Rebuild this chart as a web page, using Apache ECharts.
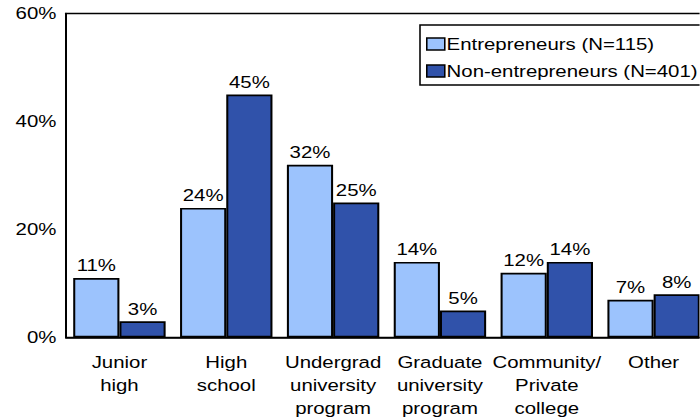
<!DOCTYPE html>
<html>
<head>
<meta charset="utf-8">
<script src="https://cdn.jsdelivr.net/npm/echarts@6/dist/echarts.min.js"></script>
<style>
  html, body { margin: 0; padding: 0; background: #fff; overflow: hidden; }
  /* the chart is laid out narrower and widened, giving the wide lettering of the original */
  #chart { width: 583.33px; height: 420px; transform: scaleX(1.2); transform-origin: 0 0; }
</style>
</head>
<body>
<div id="chart"></div>
<script>
// Education level of respondents, share in percent
const categories = ['Junior\nhigh', 'High\nschool', 'Undergrad\nuniversity\nprogram', 'Graduate\nuniversity\nprogram', 'Community/\nPrivate\ncollege', 'Other'];
const entrepreneurs = [11, 24, 32, 14, 12, 7];
const nonEntrepreneurs = [3, 45, 25, 5, 14, 8];
const seriesNames = ['Entrepreneurs (N=115)', 'Non-entrepreneurs (N=401)'];
const yTicks = [0, 20, 40, 60];

const FONT = 'Liberation Sans, Arial, sans-serif';
const chart = echarts.init(document.getElementById('chart'), null, { renderer: 'svg' });

const labelStyle = {
  show: true,
  position: 'top',
  distance: 4,
  formatter: '{c}%',
  color: '#000',
  fontFamily: FONT,
  fontSize: 17
};

chart.setOption({
  animation: false,
  textStyle: { fontFamily: FONT },
  grid: {
    left: 55, right: -6.2, top: 13.5, bottom: 82.5,
    outerBoundsMode: 'none', containLabel: false,
    show: true, borderColor: '#000', borderWidth: 1.6, backgroundColor: 'transparent'
  },
  legend: {
    orient: 'vertical',
    left: 350, top: 25,
    itemWidth: 15, itemHeight: 12, itemGap: 7,
    padding: [9, 3, 4, 5],
    borderColor: '#000', borderWidth: 1.3,
    icon: 'rect',
    itemStyle: { borderColor: '#000', borderWidth: 1.3 },
    textStyle: { fontFamily: FONT, fontSize: 17, lineHeight: 20, color: '#000', padding: [0, 0, 0, -3.5] },
    data: seriesNames
  },
  xAxis: {
    type: 'category',
    data: categories,
    axisLine: { lineStyle: { color: '#000', width: 1.6 } },
    axisTick: { show: false },
    axisLabel: { color: '#000', fontFamily: FONT, fontSize: 17, lineHeight: 23, margin: 13, interval: 0 }
  },
  yAxis: {
    type: 'value',
    min: yTicks[0], max: yTicks[yTicks.length - 1], interval: 20,
    splitLine: { show: false },
    axisLine: { show: true, lineStyle: { color: '#000', width: 1.6 } },
    axisTick: { show: false },
    axisLabel: { formatter: '{value}%', color: '#000', fontFamily: FONT, fontSize: 17, margin: 8, padding: [3, 0, 0, 0] }
  },
  series: [
    {
      name: seriesNames[0], type: 'bar', data: entrepreneurs,
      barGap: '0%', barCategoryGap: '13.5%',
      itemStyle: { color: '#9cc3fd', borderColor: '#000', borderWidth: 1.7 },
      label: labelStyle
    },
    {
      name: seriesNames[1], type: 'bar', data: nonEntrepreneurs,
      barGap: '0%', barCategoryGap: '13.5%',
      itemStyle: { color: '#3052aa', borderColor: '#000', borderWidth: 1.7 },
      label: labelStyle
    }
  ]
});
</script>
</body>
</html>
